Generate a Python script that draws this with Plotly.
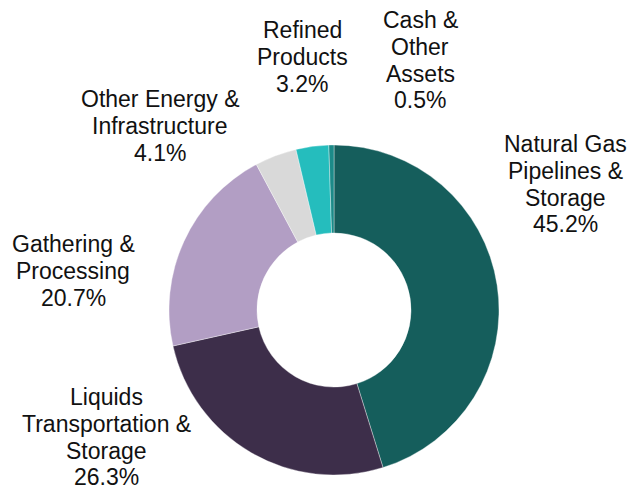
import plotly.graph_objects as go

# ---- data ----
segments = [
    "Natural Gas Pipelines & Storage",
    "Liquids Transportation & Storage",
    "Gathering & Processing",
    "Other Energy & Infrastructure",
    "Refined Products",
    "Cash & Other Assets",
]
label_lines = [
    ["Natural Gas", "Pipelines &", "Storage"],
    ["Liquids", "Transportation &", "Storage"],
    ["Gathering &", "Processing"],
    ["Other Energy &", "Infrastructure"],
    ["Refined", "Products"],
    ["Cash &", "Other", "Assets"],
]
shares = [45.2, 26.3, 20.7, 4.1, 3.2, 0.5]
colors = ["#155E5C", "#3D2E4A", "#B29EC4", "#D9D9D9", "#25BDBD", "#1C8A88"]

# ---- layout (pixel anchors: label center x, first-line baseline y) ----
W, H = 630, 490
label_anchor = [(565, 152), (106, 405), (73, 252), (160, 107), (302, 38), (420, 28)]
line_gap = 26.8
font_size = 23
cx, cy, r = 334, 310, 165

fig = go.Figure(go.Pie(
    labels=segments,
    values=shares,
    hole=0.467,
    sort=False,
    direction="clockwise",
    rotation=0,
    textinfo="none",
    hoverinfo="label+percent",
    marker=dict(colors=colors, line=dict(color="rgba(255,255,255,0.6)", width=0.6)),
    domain=dict(x=[(cx - r) / W, (cx + r) / W], y=[1 - (cy + r) / H, 1 - (cy - r) / H]),
    showlegend=False,
))

annotations = []
for lines, v, (ax, ay) in zip(label_lines, shares, label_anchor):
    all_lines = lines + [f"{v:.1f}%"]
    for i, t in enumerate(all_lines):
        base = ay + i * line_gap
        ymid = base - 0.3465 * font_size
        annotations.append(dict(
            x=ax / W, y=1 - ymid / H, xref="paper", yref="paper",
            text=t, showarrow=False, xanchor="center", yanchor="middle",
            font=dict(family="Liberation Sans, Arial, sans-serif", size=font_size, color="#111111"),
        ))

fig.update_layout(
    width=W, height=H,
    margin=dict(l=0, r=0, t=0, b=0),
    paper_bgcolor="white",
    plot_bgcolor="white",
    annotations=annotations,
)

fig.write_html("out.html")
